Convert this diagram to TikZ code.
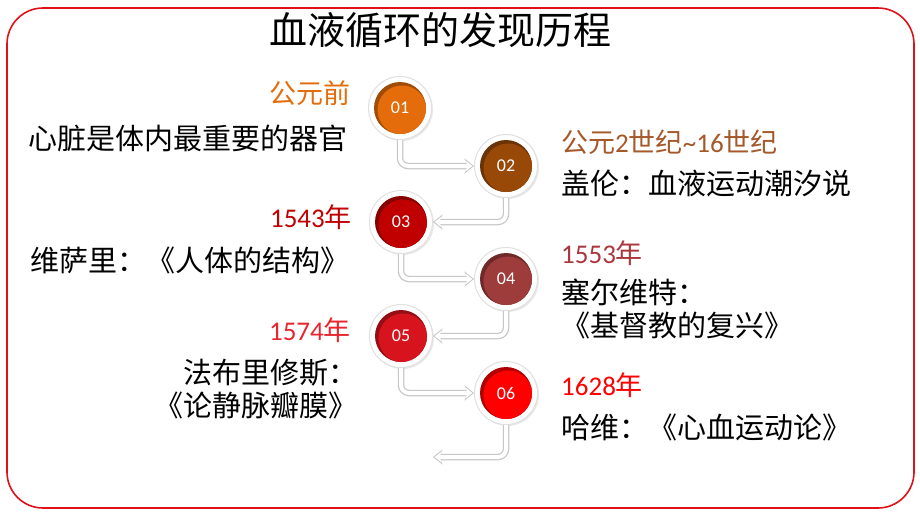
\documentclass[tikz,border=0pt]{standalone}
\usepackage{fontspec}
\setmainfont{Carlito}
\newfontfamily\cjk{Noto Sans CJK SC}
\usetikzlibrary{positioning,arrows.meta,shadows}

\definecolor{frameRed}{RGB}{224,16,24}
\definecolor{cOne}{RGB}{228,108,10}
\definecolor{cTwo}{RGB}{152,72,7}
\definecolor{cThree}{RGB}{192,0,0}
\definecolor{cFour}{RGB}{158,59,59}
\definecolor{cFive}{RGB}{215,20,30}
\definecolor{cSix}{RGB}{255,0,0}
\definecolor{tTwo}{RGB}{165,88,42}
\definecolor{tFour}{RGB}{170,55,60}
\definecolor{tFive}{RGB}{232,38,46}

\begin{document}
\begin{tikzpicture}[x=1pt,y=-1pt]
		\tikzset{Ring/.style = {circle, fill=white, draw=black!12, line width=1pt, minimum size=63pt,
				drop shadow={opacity=0.18, shadow xshift=1.5pt, shadow yshift=-1.5pt}},
			Dot/.style = {circle, minimum size=52pt, inner sep=0pt, fill=#1!70!black, text=white,
				font=\fontsize{18}{20}\selectfont,
				path picture={\fill[#1] ([shift={(2pt,-2pt)}]path picture bounding box.center) circle (24.5pt);}},
			Year/.style = {inner sep=0pt, font=\fontsize{27}{32}\selectfont},
			Body/.style = {inner sep=0pt, font=\cjk\fontsize{29}{33}\selectfont},
			Link/.style = {draw=white, line width=4pt, rounded corners=8pt, shorten >=1.6pt,
				-{Stealth[length=7pt, width=11pt]},
				preaction={draw=black!22, line width=6.5pt, shorten >=0pt, -{Stealth[length=9.5pt, width=15pt]}}}}
		\useasboundingbox (0,0) rectangle (920,517);
		\draw[frameRed, line width=1.6pt, rounded corners=36pt] (7,8) rectangle (914,508);
		\node[inner sep=0pt, font=\cjk\fontsize{38}{40}\selectfont] (Title) at (440,30) {血液循环的发现历程};
		% timeline
		\node[Ring] (R1) at (400,108) {};
		\node[Ring] (R2) at (506,166) {};
		\node[Ring] (R3) at (401,222) {};
		\node[Ring] (R4) at (506,279) {};
		\node[Ring] (R5) at (401,336) {};
		\node[Ring] (R6) at (506,393) {};
		\node[Dot=cOne]   (N1) at (R1) {01};
		\node[Dot=cTwo]   (N2) at (R2) {02};
		\node[Dot=cThree] (N3) at (R3) {03};
		\node[Dot=cFour]  (N4) at (R4) {04};
		\node[Dot=cFive]  (N5) at (R5) {05};
		\node[Dot=cSix]   (N6) at (R6) {06};
		\coordinate (End) at (433,457);
		\draw[Link] (R1.south) |- (R2.west);
		\draw[Link] (R2.south) |- (R3.east);
		\draw[Link] (R3.south) |- (R4.west);
		\draw[Link] (R4.south) |- (R5.east);
		\draw[Link] (R5.south) |- (R6.west);
		\draw[Link] (R6.south) |- (End);
		% left side
		\node[Year, text=cOne, anchor=east] (Y1) at (351,93) {\cjk 公元前};
		\node[Body, anchor=west] (D1) at (28,138) {心脏是体内最重要的器官};
		\node[Year, text=cThree, anchor=east] (Y3) at (352,217) {1543{\cjk 年}};
		\node[Body, anchor=west] (D3) at (30,260) {维萨里：《人体的结构》};
		\node[Year, text=tFive, anchor=east] (Y5) at (351,330) {1574{\cjk 年}};
		\node[Body, anchor=east, align=right] (D5) at (358,389) {法布里修斯：\\《论静脉瓣膜》};
		% right side
		\node[Year, text=tTwo, anchor=west] (Y2) at (561,142) {{\cjk 公元}2{\cjk 世纪}\textasciitilde16{\cjk 世纪}};
		\node[Body, anchor=west] (D2) at (561,183) {盖伦：血液运动潮汐说};
		\node[Year, text=tFour, anchor=west] (Y4) at (561,253) {1553{\cjk 年}};
		\node[Body, anchor=west, align=left] (D4) at (561,309) {塞尔维特：\\《基督教的复兴》};
		\node[Year, text=cSix, anchor=west] (Y6) at (561,385) {1628{\cjk 年}};
		\node[Body, anchor=west] (D6) at (561,427) {哈维：《心血运动论》};
	\end{tikzpicture}
\end{document}
